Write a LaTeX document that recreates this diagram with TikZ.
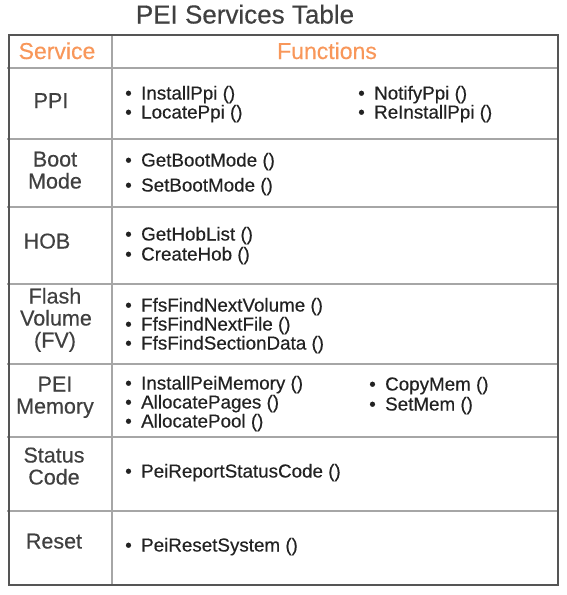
\documentclass[tikz,border=0pt]{standalone}
\usepackage{fontspec}
\setmainfont[FakeBold=0.4]{Liberation Sans}
\definecolor{inkgray}{HTML}{404040}
\definecolor{fngray}{HTML}{222222}
\definecolor{headorange}{HTML}{F8975A}
\definecolor{framegray}{HTML}{555555}
\definecolor{rulegray}{HTML}{A6A6A6}
\newcommand{\fnbullet}{\makebox[16pt][l]{\textbullet}}
\tikzset{
  tabletitle/.style={font=\fontsize{26}{28}\selectfont, text=inkgray, anchor=base, inner sep=0pt},
  colhead/.style={font=\fontsize{23}{24}\selectfont, text=headorange, anchor=base, inner sep=0pt},
  svc/.style={font=\fontsize{21.5}{22}\selectfont, text=inkgray, anchor=base, inner sep=0pt},
  fn/.style={font=\fontsize{18.8}{19}\selectfont, text=fngray, anchor=base west, inner sep=0pt},
}
\begin{document}
\begin{tikzpicture}[x=1pt,y=-1pt]
\useasboundingbox (0,0) rectangle (566,595);
% grid
\foreach \yy in {68,139,207,284,364,437,511}
  \draw[rulegray, line width=2pt] (7,\yy) -- (558,\yy);
\draw[rulegray, line width=2pt] (112,35) -- (112,585);
\draw[framegray, line width=2pt] (9,35) rectangle (558,585);
% title and heads
\node[tabletitle] (title) at (245,23.5) {PEI Services Table};
\node[colhead] (hservice) at (57,59) {Service};
\node[colhead] (hfunctions) at (327,59) {Functions};
% services
\node[svc] (ppi) at (51,108) {PPI};
\node[svc] (boot1) at (55,166.5) {Boot};
\node[svc] (boot2) at (55,188.5) {Mode};
\node[svc] (hob) at (47,248.5) {HOB};
\node[svc] (fv1) at (55,303.5) {Flash};
\node[svc] (fv2) at (56,325.5) {Volume};
\node[svc] (fv3) at (55,347.5) {(FV)};
\node[svc] (mem1) at (55,391.5) {PEI};
\node[svc] (mem2) at (55,413.5) {Memory};
\node[svc] (status1) at (54,462.5) {Status};
\node[svc] (status2) at (54,484.5) {Code};
\node[svc] (reset) at (54,548.5) {Reset};
% functions
\node[fn] (installppi) at (125,99.5) {\fnbullet InstallPpi ()};
\node[fn] (locateppi) at (125,118.5) {\fnbullet LocatePpi ()};
\node[fn] (notifyppi) at (358,99.5) {\fnbullet NotifyPpi ()};
\node[fn] (reinstallppi) at (358,118.5) {\fnbullet ReInstallPpi ()};
\node[fn] (getbootmode) at (125,166.5) {\fnbullet GetBootMode ()};
\node[fn] (setbootmode) at (125,191.5) {\fnbullet SetBootMode ()};
\node[fn] (gethoblist) at (125,240.5) {\fnbullet GetHobList ()};
\node[fn] (createhob) at (125,260.5) {\fnbullet CreateHob ()};
\node[fn] (findvolume) at (125,311.5) {\fnbullet FfsFindNextVolume ()};
\node[fn] (findfile) at (125,330.5) {\fnbullet FfsFindNextFile ()};
\node[fn] (findsection) at (125,349.5) {\fnbullet FfsFindSectionData ()};
\node[fn] (installmem) at (125,389.5) {\fnbullet InstallPeiMemory ()};
\node[fn] (allocpages) at (125,408.5) {\fnbullet AllocatePages ()};
\node[fn] (allocpool) at (125,427.5) {\fnbullet AllocatePool ()};
\node[fn] (copymem) at (369,390.5) {\fnbullet CopyMem ()};
\node[fn] (setmem) at (369,410.5) {\fnbullet SetMem ()};
\node[fn] (reportstatus) at (125,477.5) {\fnbullet PeiReportStatusCode ()};
\node[fn] (resetsystem) at (125,551.5) {\fnbullet PeiResetSystem ()};
\end{tikzpicture}
\end{document}
